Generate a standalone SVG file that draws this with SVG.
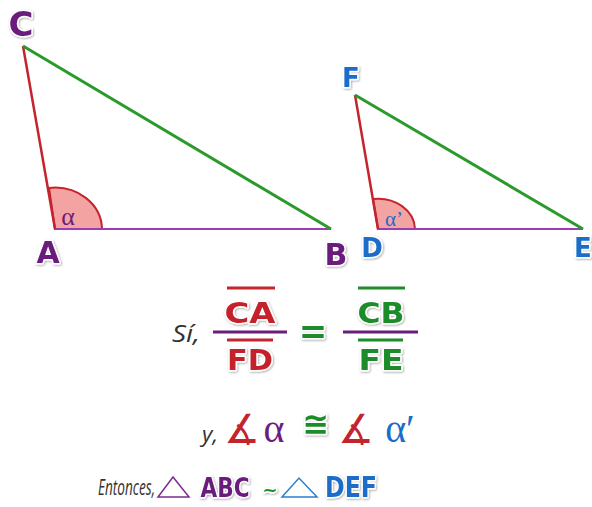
<svg xmlns="http://www.w3.org/2000/svg" width="592" height="507" viewBox="0 0 592 507">
<defs>
<filter id="sh" x="-20%" y="-20%" width="140%" height="140%">
<feDropShadow dx="0.8" dy="1" stdDeviation="0.9" flood-color="#000" flood-opacity="0.35"/>
</filter>
</defs>
<style>
.lbl{font-family:"DejaVu Sans","Open Sans",sans-serif;font-weight:700;stroke:#fff;stroke-width:3;paint-order:stroke;stroke-linejoin:round;filter:url(#sh);text-anchor:middle}
.it{font-family:"Open Sans","Noto Sans",sans-serif;font-style:italic;fill:#333}
.pur{fill:#6b1d7d}
.red{fill:#c4242c}
.grn{fill:#1f8c2c}
.blu{fill:#1b6dc8}
.bar{stroke-width:3;stroke-linecap:butt}
.sym{font-family:"DejaVu Sans",sans-serif;text-anchor:middle}
.alpha{font-family:"Liberation Serif","DejaVu Serif",serif;text-anchor:middle}
</style>
<rect width="592" height="507" fill="#fff"/>

<g id="triangle-ABC">
<path d="M102,229 A47,42 0 0 0 49,188 L55,229 Z" fill="#f4a3a3" stroke="#c4242c" stroke-width="2"/>
<line x1="55" y1="229" x2="331" y2="229" stroke="#9c3cb3" stroke-width="2"/>
<line x1="23" y1="46" x2="55" y2="229" stroke="#c4242c" stroke-width="2.5"/>
<line x1="23" y1="46" x2="331" y2="229" stroke="#2a9a2a" stroke-width="3"/>
<text class="alpha pur" x="68" y="225" font-size="26">α</text>
<text class="lbl pur" x="21" y="36" font-size="34">C</text>
<text class="lbl pur" x="48" y="263" font-size="30">A</text>
<text class="lbl pur" x="336" y="265" font-size="30">B</text>
</g>

<g id="triangle-DEF">
<path d="M415,229 A37,31 0 0 0 373,199 L378,229 Z" fill="#f4a3a3" stroke="#c4242c" stroke-width="2"/>
<line x1="378" y1="229" x2="583" y2="229" stroke="#9c3cb3" stroke-width="2"/>
<line x1="355" y1="95" x2="378" y2="229" stroke="#c4242c" stroke-width="2.5"/>
<line x1="355" y1="95" x2="583" y2="229" stroke="#2a9a2a" stroke-width="3"/>
<text class="alpha blu" x="394" y="226" font-size="21">α’</text>
<text class="lbl blu" x="351" y="87" font-size="26">F</text>
<text class="lbl blu" x="372" y="257" font-size="26">D</text>
<text class="lbl blu" x="583" y="257" font-size="26">E</text>
</g>

<g id="proportion">
<text class="it" x="172" y="342" font-size="23" textLength="28" lengthAdjust="spacingAndGlyphs">Sí,</text>
<line class="bar" x1="227" y1="288" x2="275" y2="288" stroke="#c4242c"/>
<text class="lbl red" x="250" y="323" font-size="29" textLength="51" lengthAdjust="spacingAndGlyphs">CA</text>
<line class="bar" x1="213" y1="332" x2="287" y2="332" stroke="#6b1d7d"/>
<line class="bar" x1="227" y1="340" x2="273" y2="340" stroke="#c4242c"/>
<text class="lbl red" x="250" y="370" font-size="29" textLength="46" lengthAdjust="spacingAndGlyphs">FD</text>
<text class="lbl grn" x="313" y="343" font-size="34">=</text>
<line class="bar" x1="358" y1="288" x2="405" y2="288" stroke="#1f8c2c"/>
<text class="lbl grn" x="381" y="323" font-size="29" textLength="47" lengthAdjust="spacingAndGlyphs">CB</text>
<line class="bar" x1="343" y1="332" x2="418" y2="332" stroke="#6b1d7d"/>
<line class="bar" x1="358" y1="340" x2="403" y2="340" stroke="#1f8c2c"/>
<text class="lbl grn" x="381" y="370" font-size="29" textLength="45" lengthAdjust="spacingAndGlyphs">FE</text>
</g>

<g id="angles">
<text class="it" x="202" y="442" font-size="22" textLength="16" lengthAdjust="spacingAndGlyphs">y,</text>
<text class="sym red" x="242" y="443" font-size="40">∡</text>
<text class="alpha pur" x="274" y="442" font-size="40">α</text>
<text class="sym lbl grn" x="316" y="435" font-size="32">≅</text>
<text class="sym red" x="356" y="443" font-size="40">∡</text>
<text class="alpha blu" x="400" y="442" font-size="40">α′</text>
</g>

<g id="conclusion">
<text class="it" x="98" y="495" font-size="21" textLength="57" lengthAdjust="spacingAndGlyphs">Entonces,</text>
<polygon points="158,497 173,477 189,497" fill="none" stroke="#7b2d8e" stroke-width="1.5"/>
<text class="lbl pur" x="225" y="497" font-size="27" textLength="49" lengthAdjust="spacingAndGlyphs">ABC</text>
<text class="lbl grn" x="270" y="496" font-size="18">~</text>
<polygon points="282,497 299,478 317,497" fill="none" stroke="#2a7fd0" stroke-width="1.5"/>
<text class="lbl blu" x="351" y="497" font-size="28" textLength="52" lengthAdjust="spacingAndGlyphs">DEF</text>
</g>
</svg>
